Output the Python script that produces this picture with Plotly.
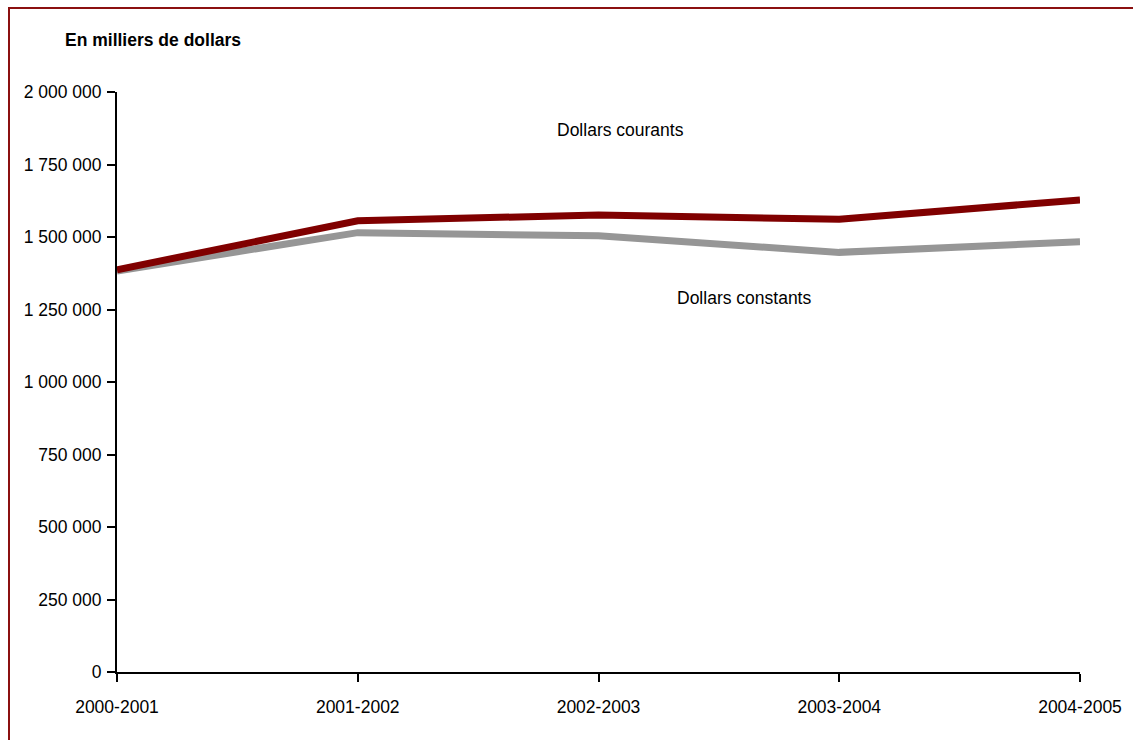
import plotly.graph_objects as go

categories = ["2000-2001", "2001-2002", "2002-2003", "2003-2004", "2004-2005"]
courants = [1387000, 1556000, 1576000, 1561000, 1628000]
constants = [1383000, 1515000, 1504000, 1447000, 1484000]
y_tickvals = [0, 250000, 500000, 750000, 1000000, 1250000, 1500000, 1750000, 2000000]
y_ticktext = ["0", "250 000", "500 000", "750 000", "1 000 000", "1 250 000", "1 500 000", "1 750 000", "2 000 000"]

FONT = "Liberation Sans, Arial, sans-serif"
FS = 17.5

fig = go.Figure()
fig.add_trace(go.Scatter(x=list(range(len(categories))), y=constants, mode="lines",
                         line=dict(color="#969696", width=7), name="Dollars constants"))
fig.add_trace(go.Scatter(x=list(range(len(categories))), y=courants, mode="lines",
                         line=dict(color="#800000", width=7), name="Dollars courants"))

fig.update_layout(
    width=1133, height=740,
    margin=dict(l=117, r=53, t=92, b=68),
    paper_bgcolor="white", plot_bgcolor="white",
    showlegend=False,
    font=dict(family=FONT, size=FS, color="black"),
    xaxis=dict(range=[0, 4], tickmode="array", tickvals=list(range(len(categories))),
               ticktext=categories, showgrid=False, zeroline=False, automargin=False,
               showline=True, linecolor="black", linewidth=2,
               ticks="outside", ticklen=8, tickwidth=2, tickcolor="black",
               ticklabelstandoff=10,
               tickfont=dict(family=FONT, size=FS)),
    yaxis=dict(range=[0, 2000000], tickmode="array", tickvals=y_tickvals,
               ticktext=y_ticktext, showgrid=False, zeroline=False, automargin=False,
               showline=True, linecolor="black", linewidth=2,
               ticks="outside", ticklen=8, tickwidth=2, tickcolor="black",
               ticklabelstandoff=2,
               tickfont=dict(family=FONT, size=FS)),
    annotations=[
        dict(text="<b>En milliers de dollars</b>", xref="paper", yref="paper",
             x=(63 - 117) / 963, y=(672 - 40) / 580, xanchor="left", yanchor="middle",
             showarrow=False, font=dict(family=FONT, size=FS)),
        dict(text="Dollars courants", xref="paper", yref="paper",
             x=(620 - 117) / 963, y=(672 - 130) / 580, xanchor="center", yanchor="middle",
             showarrow=False, font=dict(family=FONT, size=FS)),
        dict(text="Dollars constants", xref="paper", yref="paper",
             x=(744 - 117) / 963, y=(672 - 298) / 580, xanchor="center", yanchor="middle",
             showarrow=False, font=dict(family=FONT, size=FS)),
    ],
    shapes=[
        dict(type="rect", xref="paper", yref="paper",
             x0=(9 - 117) / 963, x1=(1145 - 117) / 963,
             y0=(672 - 750) / 580, y1=(672 - 8) / 580,
             line=dict(color="#8b1010", width=2), fillcolor="rgba(0,0,0,0)", layer="below"),
    ],
)

fig.write_html("out.html")
